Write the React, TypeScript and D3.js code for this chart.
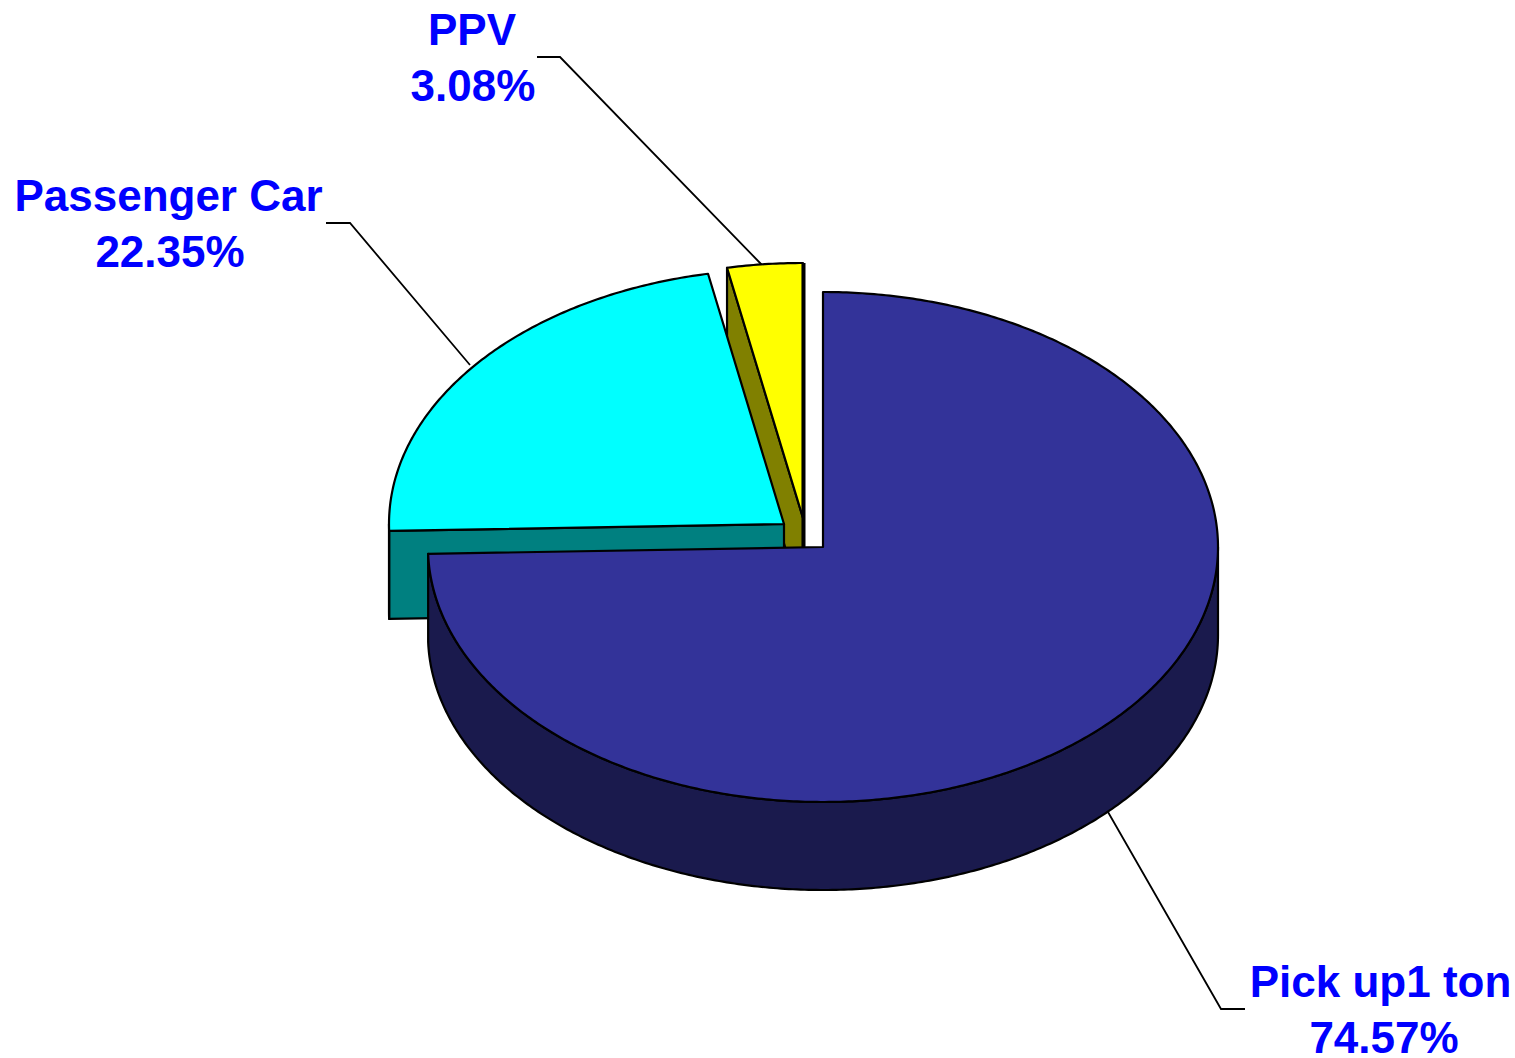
import React from "react";
import * as d3 from "d3";

const categories = ["Pick up1 ton", "Passenger Car", "PPV"];
const shares = [74.57, 22.35, 3.08];
const topColors = ["#333399", "#00FFFF", "#FFFF00"];
const wallColors = ["#1A1A4D", "#008080", "#808000"];
const centerX = [823, 784, 803];
const centerY = [547, 524, 518];
const labelX = [1380.5, 168.5, 472];
const valueX = [1384, 170, 473];
const labelY = [997, 211, 45];
const leaders = [
  [[1108, 812], [1221, 1009], [1245, 1009]],
  [[470, 365], [350, 223], [326, 223]],
  [[762, 265], [560, 57], [537, 57]],
];

const RX = 395;
const RY = 255;
const DEPTH = 88;
const W = 1515;
const H = 1058;
const TAU = Math.PI * 2;

const arcs = d3
  .pie<number>()
  .sort(null)
  .startAngle(0)
  .endAngle(TAU)(shares);

const pt = (cx: number, cy: number, a: number, dy = 0): [number, number] => [
  cx + RX * Math.sin(a),
  cy - RY * Math.cos(a) + dy,
];
const range = (a0: number, a1: number) => {
  const n = Math.max(2, Math.ceil(Math.abs(a1 - a0) / 0.01));
  return d3.range(n + 1).map((i) => a0 + ((a1 - a0) * i) / n);
};
const line = d3.line();

function topPath(cx: number, cy: number, a0: number, a1: number) {
  return line([[cx, cy], ...range(a0, a1).map((a) => pt(cx, cy, a))]) + "Z";
}
// outer wall over the part of the rim that faces the viewer
function outerWall(cx: number, cy: number, a0: number, a1: number) {
  const s = Math.max(a0, Math.PI / 2);
  const e = Math.min(a1, (3 * Math.PI) / 2);
  if (e <= s) return null;
  const r = range(s, e);
  return (
    line([
      ...r.map((a) => pt(cx, cy, a)),
      ...r.slice().reverse().map((a) => pt(cx, cy, a, DEPTH)),
    ]) + "Z"
  );
}
// radial cut face at the slice's starting angle
function cutFace(cx: number, cy: number, a: number) {
  const p = pt(cx, cy, a);
  return line([[cx, cy], p, [p[0], p[1] + DEPTH], [cx, cy + DEPTH]]) + "Z";
}

const stroke = { stroke: "#000", strokeWidth: 2.2, strokeLinejoin: "round" as const };

function Slice({ i }: { i: number }) {
  const a = arcs[i];
  const cx = centerX[i];
  const cy = centerY[i];
  const wall = wallColors[i];
  const outer = outerWall(cx, cy, a.startAngle, a.endAngle);
  return (
    <g>
      {i !== 0 && <path d={cutFace(cx, cy, a.startAngle)} fill={wall} {...stroke} />}
      {outer && <path d={outer} fill={wall} {...stroke} />}
      <path d={topPath(cx, cy, a.startAngle, a.endAngle)} fill={topColors[i]} {...stroke} />
    </g>
  );
}

export default function App() {
  return (
    <svg
      width={W}
      height={H}
      viewBox={`0 0 ${W} ${H}`}
      style={{ position: "absolute", left: 0, top: 0, background: "#fff" }}
    >
      {leaders.map((l, i) => (
        <path
          key={i}
          d={line(l as [number, number][]) as string}
          fill="none"
          stroke="#000"
          strokeWidth={1.8}
        />
      ))}
      <Slice i={2} />
      <line x1={803.5} x2={803.5} y1={263} y2={549} stroke="#000" strokeWidth={4} />
      <Slice i={1} />
      <Slice i={0} />
      {categories.map((c, i) => (
        <text
          key={c}
          y={labelY[i]}
          textAnchor="middle"
          fontFamily="'Liberation Sans', Arial, sans-serif"
          fontWeight="bold"
          fontSize={44}
          fill="#0000FF"
        >
          <tspan x={labelX[i]}>{c}</tspan>
          <tspan x={valueX[i]} dy={56}>
            {shares[i].toFixed(2)}%
          </tspan>
        </text>
      ))}
    </svg>
  );
}
